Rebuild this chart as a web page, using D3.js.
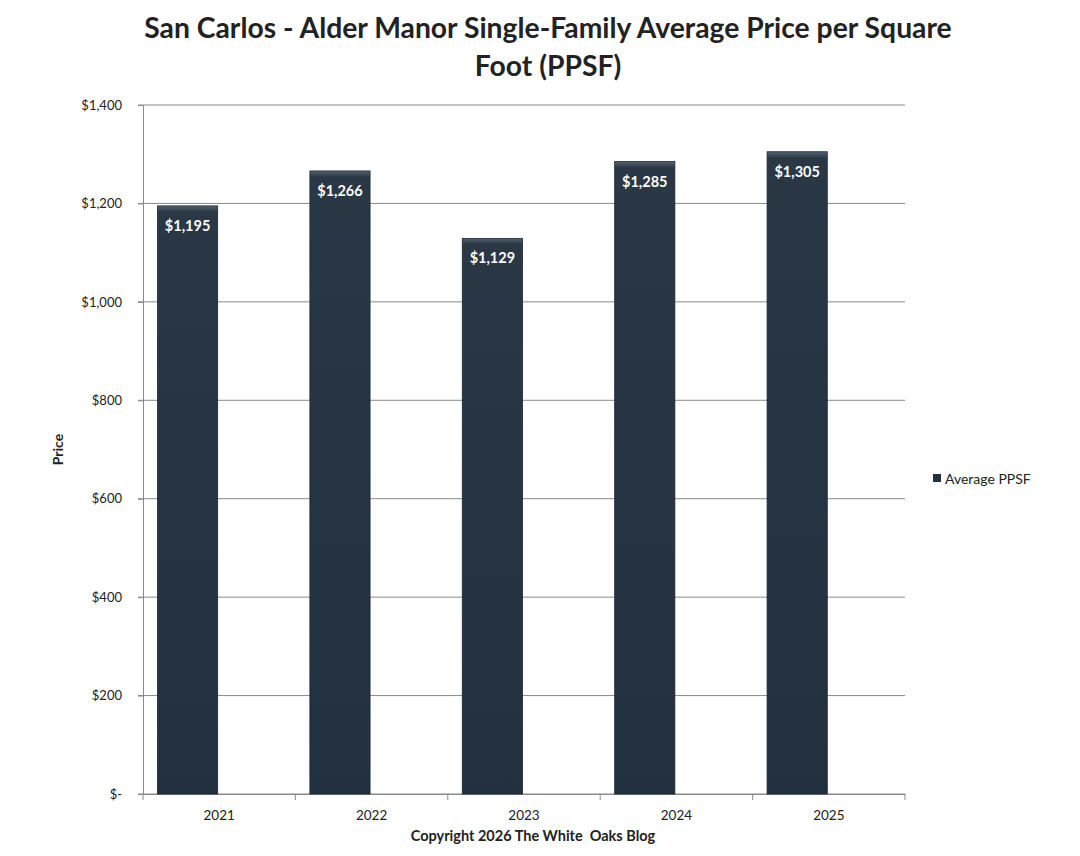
<!DOCTYPE html>
<html lang="en">
<head>
<meta charset="UTF-8">
<title>San Carlos - Alder Manor PPSF</title>
<style>
  body { margin: 0; background: #fff; }
  text { font-family: Lato, "Open Sans", sans-serif; fill: #222; }
  .title { font-size: 28.3px; font-weight: bold; fill: #222; }
  .tick text { font-size: 13px; }
  .barlabel { font-size: 14.5px; font-weight: bold; fill: #fff; }
</style>
</head>
<body>
<div id="chart"></div>
<script src="https://d3js.org/d3.v7.min.js"></script>
<script>
const years = ["2021", "2022", "2023", "2024", "2025"];
const ppsf = [1195, 1266, 1129, 1285, 1305];
const yTicks = [0, 200, 400, 600, 800, 1000, 1200, 1400];
const seriesName = "Average PPSF";

const width = 1080, height = 856;
const margin = { top: 105, right: 175, bottom: 62, left: 143 };

const svg = d3.select("#chart").append("svg")
  .attr("width", width)
  .attr("height", height);

const defs = svg.append("defs");
const grad = defs.append("linearGradient")
  .attr("id", "barGrad").attr("x1", 0).attr("y1", 0).attr("x2", 0).attr("y2", 1);
grad.append("stop").attr("offset", "0%").attr("stop-color", "#56636f");
grad.append("stop").attr("offset", "1%").attr("stop-color", "#2a3745");
grad.append("stop").attr("offset", "100%").attr("stop-color", "#223040");

const x = d3.scaleBand()
  .domain(years)
  .range([margin.left, width - margin.right]);

const y = d3.scaleLinear()
  .domain([0, 1400])
  .range([height - margin.bottom, margin.top]);

// gridlines
svg.append("g")
  .selectAll("line")
  .data(yTicks)
  .join("line")
  .attr("x1", margin.left - 5)
  .attr("x2", width - margin.right)
  .attr("y1", d => y(d))
  .attr("y2", d => y(d))
  .attr("stroke", "#8a8a8a")
  .attr("stroke-width", 1);

// y axis
const yAxis = svg.append("g")
  .attr("transform", `translate(${margin.left},0)`)
  .call(d3.axisLeft(y).tickValues(yTicks).tickSize(5).tickPadding(16)
    .tickFormat(d => d === 0 ? "$-" : "$" + d3.format(",")(d)));
yAxis.selectAll("line, path").attr("stroke", "#8a8a8a");

// x axis
const xAxis = svg.append("g")
  .attr("transform", `translate(0,${height - margin.bottom})`)
  .call(d3.axisBottom(x).tickSize(0).tickPadding(16));
xAxis.select("path").attr("stroke", "#8a8a8a");
xAxis.selectAll(".tick text").style("font-size", "13.5px");

// category boundary ticks
const bounds = years.map(d => x(d)).concat([x(years[years.length - 1]) + x.bandwidth()]);
svg.append("g")
  .selectAll("line")
  .data(bounds)
  .join("line")
  .attr("x1", d => d).attr("x2", d => d)
  .attr("y1", height - margin.bottom)
  .attr("y2", height - margin.bottom + 6)
  .attr("stroke", "#8a8a8a");

// bars (offset left within the band, as in the original)
const barW = x.bandwidth() * 0.395;
const barOff = x.bandwidth() * 0.095;
const bars = svg.append("g")
  .selectAll("g")
  .data(years.map((d, i) => ({ year: d, value: ppsf[i] })))
  .join("g");

bars.append("rect")
  .attr("x", d => x(d.year) + barOff)
  .attr("y", d => y(d.value))
  .attr("width", barW)
  .attr("height", d => y(0) - y(d.value))
  .attr("fill", "url(#barGrad)")
  .attr("stroke", "#1b2633")
  .attr("stroke-width", 0.8);

bars.append("text")
  .attr("class", "barlabel")
  .attr("x", d => x(d.year) + barOff + barW / 2)
  .attr("y", d => y(d.value) + 25)
  .attr("text-anchor", "middle")
  .text(d => "$" + d3.format(",")(d.value));

// title
const title = svg.append("text")
  .attr("class", "title")
  .attr("text-anchor", "middle")
  .attr("x", 548);
title.append("tspan").attr("x", 548).attr("y", 38)
  .text("San Carlos - Alder Manor Single-Family Average Price per Square");
title.append("tspan").attr("x", 548).attr("y", 76)
  .text("Foot (PPSF)");

// y axis title
svg.append("text")
  .attr("transform", `translate(63,${(margin.top + height - margin.bottom) / 2}) rotate(-90)`)
  .attr("text-anchor", "middle")
  .style("font-size", "14px")
  .style("font-weight", "bold")
  .text("Price");

// x axis title (double space kept as in the original)
svg.append("text")
  .attr("x", 533)
  .attr("y", 841)
  .attr("text-anchor", "middle")
  .style("font-size", "14.5px")
  .style("font-weight", "bold")
  .style("white-space", "pre")
  .text("Copyright 2026 The White  Oaks Blog");

// legend
const legend = svg.append("g").attr("transform", "translate(933,479)");
legend.append("rect")
  .attr("x", 0).attr("y", -5)
  .attr("width", 8).attr("height", 8)
  .attr("fill", "#223040");
legend.append("text")
  .attr("x", 12).attr("y", 5)
  .style("font-size", "14px")
  .text(seriesName);
</script>
</body>
</html>
